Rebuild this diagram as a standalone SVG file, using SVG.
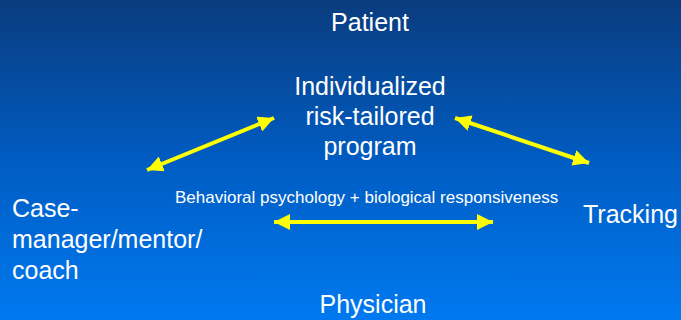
<svg xmlns="http://www.w3.org/2000/svg" width="681" height="320" viewBox="0 0 681 320">
  <defs>
    <linearGradient id="bg" x1="0" y1="0" x2="0" y2="1">
      <stop offset="0" stop-color="#0a3c7e"/>
      <stop offset="0.5" stop-color="#005cc2"/>
      <stop offset="1" stop-color="#0079f0"/>
    </linearGradient>
    <marker id="head" viewBox="0 0 16 16" refX="16" refY="8" markerWidth="16" markerHeight="16" markerUnits="userSpaceOnUse" orient="auto-start-reverse">
      <polygon points="0,0 16,8 0,16" fill="#ffff00"/>
    </marker>
    <style>
      .lbl { font-family: "Liberation Sans", Arial, sans-serif; font-size: 25px; fill: #ffffff; }
      .mid { text-anchor: middle; }
      .small { font-family: "Liberation Sans", Arial, sans-serif; font-size: 17px; fill: #ffffff; }
      .link { stroke: #ffff00; stroke-width: 4; fill: none; marker-start: url(#head); marker-end: url(#head); }
    </style>
  </defs>

  <rect x="0" y="0" width="681" height="320" fill="url(#bg)"/>

  <g id="patient">
    <text class="lbl mid" x="370" y="31">Patient</text>
  </g>

  <g id="program">
    <text class="lbl mid" x="370" y="95">Individualized</text>
    <text class="lbl mid" x="370" y="125">risk-tailored</text>
    <text class="lbl mid" x="370" y="155">program</text>
  </g>

  <g id="case-manager">
    <text class="lbl" x="12" y="217">Case-</text>
    <text class="lbl" x="12" y="248">manager/mentor/</text>
    <text class="lbl" x="12" y="279">coach</text>
  </g>

  <g id="tracking">
    <text class="lbl" x="583" y="223">Tracking</text>
  </g>

  <g id="physician">
    <text class="lbl mid" x="373" y="313">Physician</text>
  </g>

  <g id="basis">
    <text class="small" x="175" y="203">Behavioral psychology + biological responsiveness</text>
  </g>

  <g id="connectors">
    <line class="link" x1="147" y1="170" x2="274" y2="118"/>
    <line class="link" x1="455" y1="118" x2="589" y2="163"/>
    <line class="link" x1="274" y1="222" x2="493" y2="222"/>
  </g>
</svg>
